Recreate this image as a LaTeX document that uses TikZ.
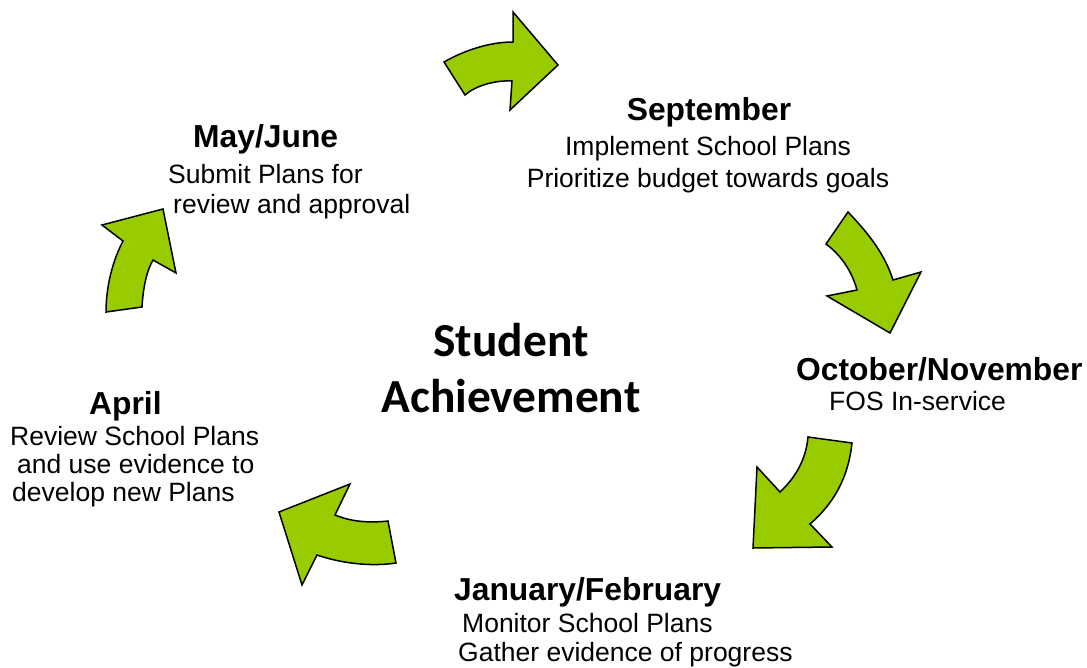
\documentclass[tikz,border=0pt]{standalone}
\usepackage{fontspec}
\setmainfont{Liberation Sans}
\newfontfamily\centerfont{Carlito}
\definecolor{arrowgreen}{HTML}{99CC00}
\tikzset{
  bentarrow/.style={fill=arrowgreen, draw=black, line width=1.5pt, line join=miter},
  headtxt/.style={inner sep=0pt, anchor=base west, font=\fontsize{31.8}{38}\selectfont\bfseries},
  bodytxt/.style={inner sep=0pt, anchor=base west, font=\fontsize{26.5}{31.8}\selectfont},
  centertxt/.style={inner sep=0pt, anchor=base, font=\fontsize{47.4}{57}\selectfont\centerfont\bfseries},
}
\begin{document}
\begin{tikzpicture}[x=1pt,y=-1pt]
\useasboundingbox (0,0) rectangle (1087,668);

% arrows
\draw[bentarrow] (444,62) .. controls (465,50) and (490,42) .. (513,42) -- (513,12) -- (558,65) -- (510,110) -- (512,81) .. controls (495,80) and (475,86) .. (465,95) -- cycle;
\draw[bentarrow] (848,212) .. controls (870,235) and (885,255) .. (893,280) -- (921,272) -- (890,333) -- (827,296) -- (857,290) .. controls (852,272) and (842,256) .. (826,244) -- cycle;
\draw[bentarrow] (808,437) -- (852,443) .. controls (848,480) and (832,505) .. (810,524) -- (832,547) -- (753,548) -- (757,467) -- (780,492) .. controls (795,478) and (806,460) .. (808,437) -- cycle;
\draw[bentarrow] (388,521) -- (396,563) .. controls (370,567) and (340,563) .. (317,555) -- (302,585) -- (279,512) -- (350,484) -- (335,515) .. controls (352,522) and (370,523) .. (388,521) -- cycle;
\draw[bentarrow] (106,312) -- (142,307) .. controls (143,290) and (146,272) .. (153,260) -- (176,273) -- (163,209) -- (102,225) -- (123,241) .. controls (112,262) and (106,288) .. (106,312) -- cycle;

% centre
\node[centertxt] (c1) at (511,356) {Student};
\node[centertxt] (c2) at (511,412) {Achievement};

% September
\node[headtxt, anchor=base] (sep) at (709,121) {September};
\node[bodytxt, anchor=base] (sep1) at (708,156) {Implement School Plans};
\node[bodytxt, anchor=base] (sep2) at (708,188) {Prioritize budget towards goals};

% October/November
\node[headtxt] (oct) at (796,380) {October/November};
\node[bodytxt] (oct1) at (829,410) {FOS In-service};

% January/February
\node[headtxt] (jan) at (454,600) {January/February};
\node[bodytxt] (jan1) at (462,632) {Monitor School Plans};
\node[bodytxt] (jan2) at (458,661) {Gather evidence of progress};

% April
\node[headtxt] (apr) at (89,414) {April};
\node[bodytxt] (apr1) at (10,445) {Review School Plans};
\node[bodytxt] (apr2) at (17,473) {and use evidence to};
\node[bodytxt] (apr3) at (12,501) {develop new Plans};

% May/June
\node[headtxt] (may) at (193,148) {May/June};
\node[bodytxt] (may1) at (168,184) {Submit Plans for};
\node[bodytxt] (may2) at (173,214) {review and approval};
\end{tikzpicture}
\end{document}
